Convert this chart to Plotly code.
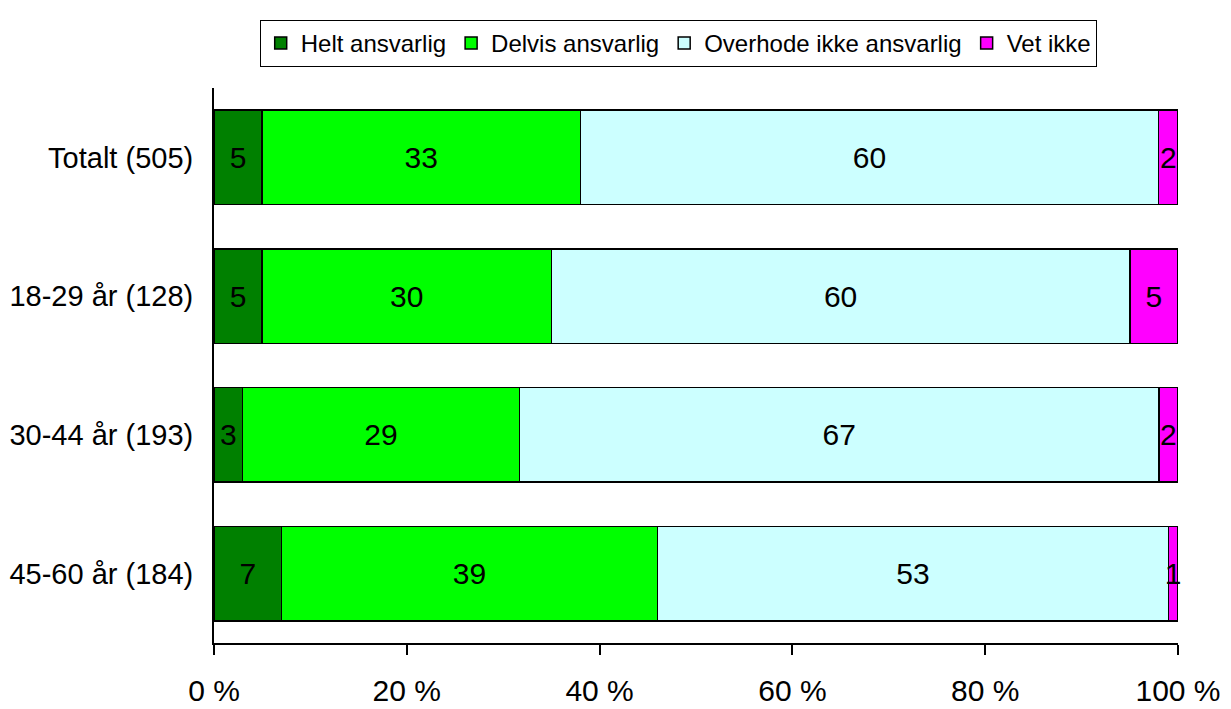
import plotly.graph_objects as go

categories = ["Totalt (505)", "18-29 år (128)", "30-44 år (193)", "45-60 år (184)"]
series_names = ["Helt ansvarlig", "Delvis ansvarlig", "Overhode ikke ansvarlig", "Vet ikke"]
helt = [5, 5, 3, 7]
delvis = [33, 30, 29, 39]
overhode = [60, 60, 67, 53]
vet_ikke = [2, 5, 2, 1]
tick_vals = [0, 20, 40, 60, 80, 100]
tick_text = ["0 %", "20 %", "40 %", "60 %", "80 %", "100 %"]

colors = ["#008000", "#00FF00", "#CCFFFF", "#FF00FF"]
FONT = "Arial, Liberation Sans, sans-serif"

fig = go.Figure()
for name, vals, col in zip(series_names, [helt, delvis, overhode, vet_ikke], colors):
    fig.add_trace(go.Bar(
        y=categories, x=vals, name=name, orientation="h",
        marker=dict(color=col, line=dict(color="black", width=1.5)),
        text=vals, texttemplate="%{text}", textposition="inside",
        insidetextanchor="middle", constraintext="none",
        textfont=dict(family=FONT, size=30, color="black"),
        cliponaxis=False,
    ))

fig.update_layout(
    barmode="stack", barnorm="percent", bargap=0.32,
    width=1223, height=701,
    margin=dict(l=206, r=53, t=80, b=66),
    paper_bgcolor="white", plot_bgcolor="white",
    font=dict(family=FONT, color="black"),
    uniformtext=dict(minsize=30, mode="show"),
    showlegend=True,
    legend=dict(
        orientation="h", xref="container", yref="container",
        x=0.548, xanchor="center", y=0.983, yanchor="top",
        bordercolor="black", borderwidth=1, traceorder="normal",
        font=dict(family=FONT, size=24, color="black"),
        itemwidth=30, tracegroupgap=0,
    ),
)
fig.update_xaxes(
    range=[0, 100], tickmode="array", tickvals=tick_vals, ticktext=tick_text,
    showline=True, linecolor="black", linewidth=2,
    ticks="outside", ticklen=10, tickwidth=2, tickcolor="black",
    showgrid=False, zeroline=False, automargin=False,
    tickfont=dict(family=FONT, size=30, color="black"),
    ticklabelstandoff=10,
)
fig.update_yaxes(
    categoryorder="array", categoryarray=categories[::-1],
    showline=True, linecolor="black", linewidth=2,
    ticks="", showgrid=False, automargin=False,
    tickfont=dict(family=FONT, size=29, color="black"),
    ticklabelstandoff=13,
)

fig.write_html("out.html")
